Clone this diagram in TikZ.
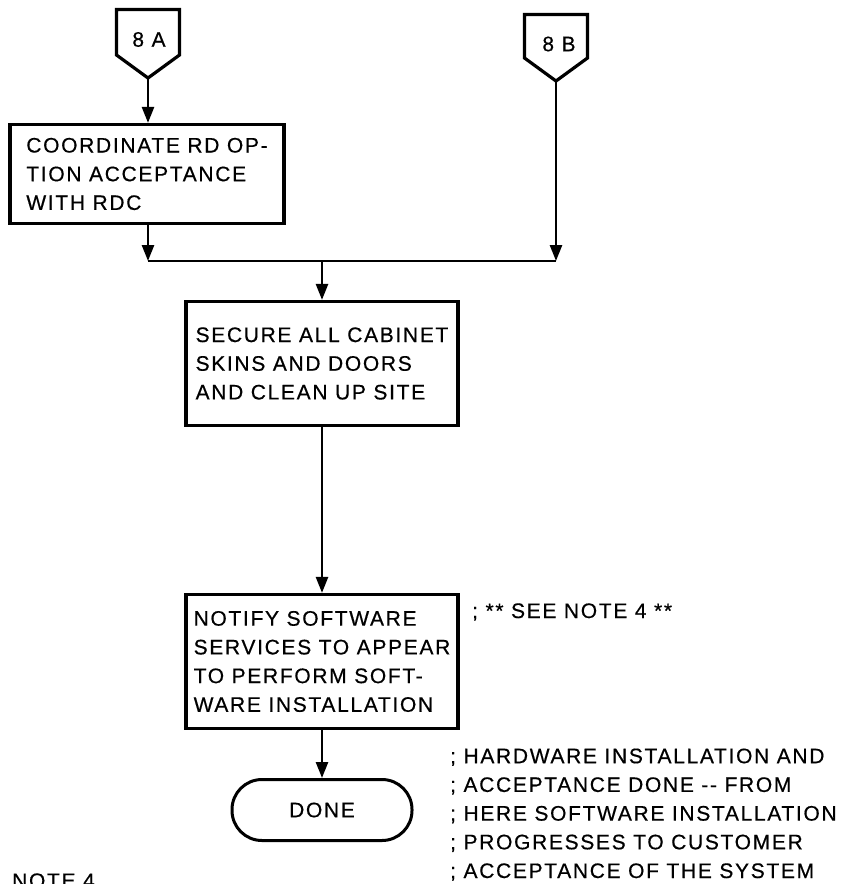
\documentclass[tikz,border=0pt]{standalone}
\usepackage{fontspec}
\setmainfont{Liberation Sans}[LetterSpace=8, FakeBold=0.5]
\usetikzlibrary{arrows.meta}
\newcommand\myfnt{\fontsize{21}{28.7}\selectfont}
\tikzset{
  outline/.style={line width=3.2pt, line join=miter},
  procbox/.style={draw, line width=3.2pt, align=left, inner sep=0pt, font=\myfnt},
  termbox/.style={draw, line width=3pt, rounded corners=30pt, inner sep=0pt, font=\myfnt},
  conn/.style={line width=2.6pt, -{Triangle[width=12pt,length=16pt]}},
  bus/.style={line width=2.6pt},
  tagtext/.style={inner sep=0pt, font=\myfnt},
  note/.style={inner sep=0pt, font=\myfnt, align=left, anchor=base west},
}
\begin{document}
\begin{tikzpicture}[x=1pt,y=-1pt]
\useasboundingbox (0,0) rectangle (841,884);
% off-page connectors
\draw[outline] (116.5,9.5) -- (179.5,9.5) -- (179.5,55) -- (148,78) -- (116.5,55) -- cycle;
\coordinate (a8tip) at (148,78);
\node[tagtext] (a8) at (149,39.5) {8 A};
\draw[outline] (524.5,14.5) -- (587.5,14.5) -- (587.5,58) -- (556,81) -- (524.5,58) -- cycle;
\coordinate (b8tip) at (556,81);
\node[tagtext] (b8) at (559,44) {8 B};
% process boxes
\node[procbox, minimum width=274pt, minimum height=99pt] (box1) at (147,174)
  {COORDINATE RD OP-\\TION ACCEPTANCE\\WITH RDC};
\node[procbox, minimum width=272pt, minimum height=124pt] (box2) at (322,363.5)
  {SECURE ALL CABINET\\SKINS AND DOORS\\AND CLEAN UP SITE};
\node[procbox, minimum width=272pt, minimum height=134pt] (box3) at (322,661.5)
  {NOTIFY SOFTWARE\\SERVICES TO APPEAR\\TO PERFORM SOFT-\\WARE INSTALLATION};
\node[termbox, minimum width=180pt, minimum height=61pt] (done) at (322,810) {DONE};
% junction
\coordinate (j1) at (148,261);
\coordinate (j2) at (556,261);
\coordinate (jc) at (322,261);
% connectors
\draw[conn] (a8tip) -- (a8tip |- box1.north);
\draw[conn] (a8tip |- box1.south) -- (j1);
\draw[conn] (b8tip) -- (j2);
\draw[bus] (j1) -- (j2);
\draw[conn] (jc) -- (box2.north);
\draw[conn] (box2.south) -- (box3.north);
\draw[conn] (box3.south) -- (done.north);
% notes
\node[note] (see) at (472,618) {; ** SEE NOTE 4 **};
\node[note] (comment) at (450,878)
  {; HARDWARE INSTALLATION AND\\; ACCEPTANCE DONE -{}- FROM\\; HERE SOFTWARE INSTALLATION\\; PROGRESSES TO CUSTOMER\\; ACCEPTANCE OF THE SYSTEM};
\node[note] (note4) at (12,888) {NOTE 4};
\end{tikzpicture}
\end{document}
